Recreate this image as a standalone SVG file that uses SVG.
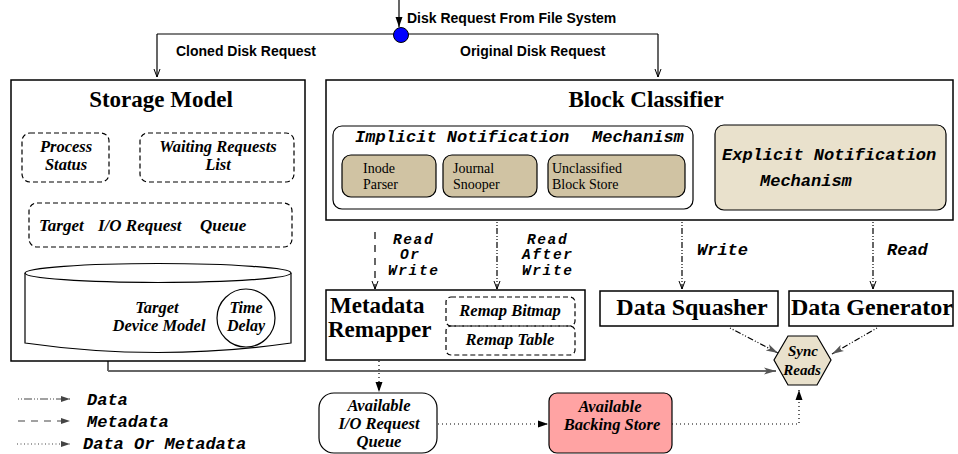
<svg xmlns="http://www.w3.org/2000/svg" width="958" height="454" viewBox="0 0 958 454">
<style>
.box{fill:#fff;stroke:#000;stroke-width:1.5}
.dbox{fill:none;stroke:#000;stroke-width:1.2;stroke-dasharray:5,3}
.tan{fill:#d0c3a3;stroke:#000;stroke-width:1.2}
.ltan{fill:#e9e1cc;stroke:#000;stroke-width:1.2}
.sans{font-family:"Liberation Sans",Arial,sans-serif;font-weight:bold;font-size:14px}
.title{font-family:"Liberation Serif","Times New Roman",serif;font-weight:bold;font-size:23px}
.big{font-family:"Liberation Serif","Times New Roman",serif;font-weight:bold;font-size:24px}
.ti{font-family:"Liberation Serif","Times New Roman",serif;font-weight:bold;font-style:italic;font-size:17px}
.ts{font-family:"Liberation Serif","Times New Roman",serif;font-weight:bold;font-style:italic;font-size:16.5px}
.tr{font-family:"Liberation Serif","Times New Roman",serif;font-size:14px}
.mono{font-family:"Liberation Mono","Courier New",monospace;font-weight:bold;font-style:italic;font-size:17px}
.lbl{font-family:"Liberation Mono","Courier New",monospace;font-weight:bold;font-style:italic;font-size:14.5px;letter-spacing:1.6px}
.ln{fill:none;stroke:#000;stroke-width:1.2}
.meta{stroke-dasharray:7,6}
.data{stroke-dasharray:1,2,1,2,6,2}
.dom{stroke-dasharray:1,3}
.mid{text-anchor:middle}
</style>
<defs>
<marker id="open" markerWidth="10" markerHeight="10" refX="8" refY="4" orient="auto" markerUnits="userSpaceOnUse">
<path d="M0,1 L8,4 L0,7" fill="none" stroke="#000" stroke-width="1"/>
</marker>
<marker id="fill" markerWidth="12" markerHeight="10" refX="10" refY="4" orient="auto" markerUnits="userSpaceOnUse">
<path d="M0,0.5 L10,4 L0,7.5 z" fill="#000"/>
</marker>
<marker id="gopen" markerWidth="14" markerHeight="10" refX="12" refY="4" orient="auto" markerUnits="userSpaceOnUse">
<path d="M0,0.5 L12,4 L0,7.5 L3,4 z" fill="#555"/>
</marker>
<marker id="lg" markerWidth="12" markerHeight="10" refX="9" refY="3.5" orient="auto" markerUnits="userSpaceOnUse">
<path d="M0,0.5 L9,3.5 L0,6.5 z" fill="#444"/>
</marker>
</defs>

<g id="connectors">
<line class="ln" x1="399" y1="0" x2="399" y2="27" marker-end="url(#fill)"/>
<path class="ln" d="M157,34 H658"/>
<line class="ln" x1="157" y1="34" x2="157" y2="77" marker-end="url(#open)"/>
<line class="ln" x1="658" y1="34" x2="658" y2="77" marker-end="url(#open)"/>
<line class="ln meta" x1="375" y1="232" x2="375" y2="289" marker-end="url(#open)"/>
<line class="ln data" x1="497" y1="222" x2="497" y2="289" marker-end="url(#open)"/>
<line class="ln data" x1="682" y1="222" x2="682" y2="289" marker-end="url(#open)"/>
<line class="ln data" x1="873" y1="222" x2="873" y2="289" marker-end="url(#open)"/>
<line class="ln data" x1="730" y1="328" x2="778" y2="353" marker-end="url(#gopen)"/>
<line class="ln data" x1="877" y1="328" x2="832" y2="354" marker-end="url(#gopen)"/>
<path d="M108,352 V371" fill="none" stroke="#000" stroke-width="1.2"/>
<path d="M108,371 H776" fill="none" stroke="#666" stroke-width="2.2" marker-end="url(#gopen)"/>
<line class="ln dom" x1="379" y1="361" x2="379" y2="392" marker-end="url(#fill)"/>
<line class="ln dom" x1="438" y1="424" x2="548" y2="424" marker-end="url(#fill)"/>
<path class="ln dom" d="M672,424 H799 V390" marker-end="url(#fill)"/>
</g>

<g id="split">
<circle cx="401" cy="35" r="7.5" fill="#0000ff" stroke="#000" stroke-width="1"/>
<text class="sans" x="407" y="23">Disk Request From File System</text>
<text class="sans" x="176" y="56">Cloned Disk Request</text>
<text class="sans" x="460" y="56">Original Disk Request</text>
</g>

<g id="storage-model">
<rect class="box" x="11" y="80" width="294" height="281"/>
<text class="title mid" x="161" y="107">Storage Model</text>
</g>
<g id="process-status">
<rect class="dbox" x="22" y="133" width="87" height="49" rx="8"/>
<text class="ts mid" x="66" y="152">Process</text>
<text class="ts mid" x="66" y="170">Status</text>
</g>
<g id="waiting-requests">
<rect class="dbox" x="140" y="133" width="154" height="49" rx="8"/>
<text class="ts mid" x="218" y="152">Waiting Requests</text>
<text class="ts mid" x="218" y="170">List</text>
</g>
<g id="target-queue">
<rect class="dbox" x="29" y="203" width="263" height="44" rx="8"/>
<text class="ti" x="39" y="231">Target</text>
<text class="ti" x="98" y="231">I/O Request</text>
<text class="ti" x="200" y="231">Queue</text>
</g>
<g id="target-device">
<path d="M25,273 V343 Q158,362 291,343 V273" fill="#fff" stroke="#000" stroke-width="1.2"/>
<ellipse cx="158" cy="273" rx="133" ry="9.5" fill="#fff" stroke="#000" stroke-width="1.2"/>
<text class="ts mid" x="157" y="313">Target</text>
<text class="ts mid" x="159" y="331">Device Model</text>
</g>
<g id="time-delay">
<circle cx="246" cy="318" r="29" fill="none" stroke="#000" stroke-width="1.2"/>
<text class="ts mid" x="246" y="313" style="font-size:16px">Time</text>
<text class="ts mid" x="246" y="331" style="font-size:16px">Delay</text>
</g>

<g id="block-classifier">
<rect class="box" x="326" y="80" width="627" height="140"/>
<text class="title mid" x="646" y="107">Block Classifier</text>
</g>
<g id="implicit">
<rect x="333" y="126" width="360" height="83" rx="9" fill="#fff" stroke="#000" stroke-width="1.2"/>
<text class="mono" x="355" y="142">Implicit Notification</text>
<text class="mono" x="592" y="142">Mechanism</text>
</g>
<g id="inode-parser">
<rect class="tan" x="342" y="155" width="94" height="42" rx="9"/>
<text class="tr" x="363" y="173">Inode</text>
<text class="tr" x="363" y="189">Parser</text>
</g>
<g id="journal-snooper">
<rect class="tan" x="443" y="155" width="94" height="42" rx="9"/>
<text class="tr" x="453" y="173">Journal</text>
<text class="tr" x="453" y="189">Snooper</text>
</g>
<g id="unclassified">
<rect class="tan" x="548" y="155" width="137" height="42" rx="9"/>
<text class="tr" x="552" y="173">Unclassified</text>
<text class="tr" x="552" y="189">Block Store</text>
</g>
<g id="explicit">
<rect class="ltan" x="715" y="125" width="231" height="85" rx="9"/>
<text class="mono" x="722" y="160">Explicit Notification</text>
<text class="mono" x="760" y="186">Mechanism</text>
</g>

<g id="labels">
<text class="lbl" x="393" y="244">Read</text>
<text class="lbl" x="400" y="259">Or</text>
<text class="lbl" x="388" y="275">Write</text>
<text class="lbl" x="527" y="244">Read</text>
<text class="lbl" x="522" y="259">After</text>
<text class="lbl" x="522" y="275">Write</text>
<text class="mono" x="697" y="255">Write</text>
<text class="mono" x="887" y="255">Read</text>
</g>

<g id="metadata-remapper">
<rect class="box" x="326" y="290" width="259" height="70"/>
<text class="big" x="330" y="313" style="font-size:23px">Metadata</text>
<text class="big" x="328" y="337" style="font-size:23px">Remapper</text>
</g>
<g id="remap-bitmap">
<rect class="dbox" x="446" y="297" width="129" height="29" rx="5"/>
<text class="ts mid" x="510" y="316">Remap Bitmap</text>
</g>
<g id="remap-table">
<rect class="dbox" x="446" y="326" width="129" height="29" rx="5"/>
<text class="ts mid" x="510" y="345">Remap Table</text>
</g>

<g id="data-squasher">
<rect class="box" x="600" y="291" width="178" height="35"/>
<text class="big mid" x="692" y="315">Data Squasher</text>
</g>
<g id="data-generator">
<rect class="box" x="789" y="291" width="164" height="35"/>
<text class="big mid" x="872" y="315">Data Generator</text>
</g>

<g id="sync-reads">
<polygon class="ltan" points="788,336 817,336 831,360 817,385 788,385 774,360"/>
<text class="ts mid" x="803" y="356" style="font-size:15px">Sync</text>
<text class="ts mid" x="802" y="375" style="font-size:15px">Reads</text>
</g>

<g id="io-queue">
<rect x="319" y="393" width="118" height="60" rx="15" fill="#fff" stroke="#000" stroke-width="1.2"/>
<text class="ts mid" x="379" y="411">Available</text>
<text class="ts mid" x="379" y="429">I/O Request</text>
<text class="ts mid" x="379" y="447">Queue</text>
</g>
<g id="backing-store">
<rect x="549" y="393" width="123" height="60" rx="8" fill="#ffa3a3" stroke="#000" stroke-width="1.2"/>
<text class="ts mid" x="610" y="412">Available</text>
<text class="ts mid" x="612" y="430">Backing Store</text>
</g>

<g id="legend">
<line x1="18" y1="399" x2="70" y2="399" stroke="#444" stroke-width="1.2" stroke-dasharray="1,2,1,2,8,2" marker-end="url(#lg)"/>
<text class="mono" x="87" y="405">Data</text>
<line x1="18" y1="421" x2="70" y2="421" stroke="#444" stroke-width="1.2" stroke-dasharray="7,6" marker-end="url(#lg)"/>
<text class="mono" x="87" y="427">Metadata</text>
<line x1="17" y1="444" x2="70" y2="444" stroke="#444" stroke-width="1.2" stroke-dasharray="1,2.5" marker-end="url(#lg)"/>
<text class="mono" x="83" y="449">Data Or Metadata</text>
</g>
</svg>
